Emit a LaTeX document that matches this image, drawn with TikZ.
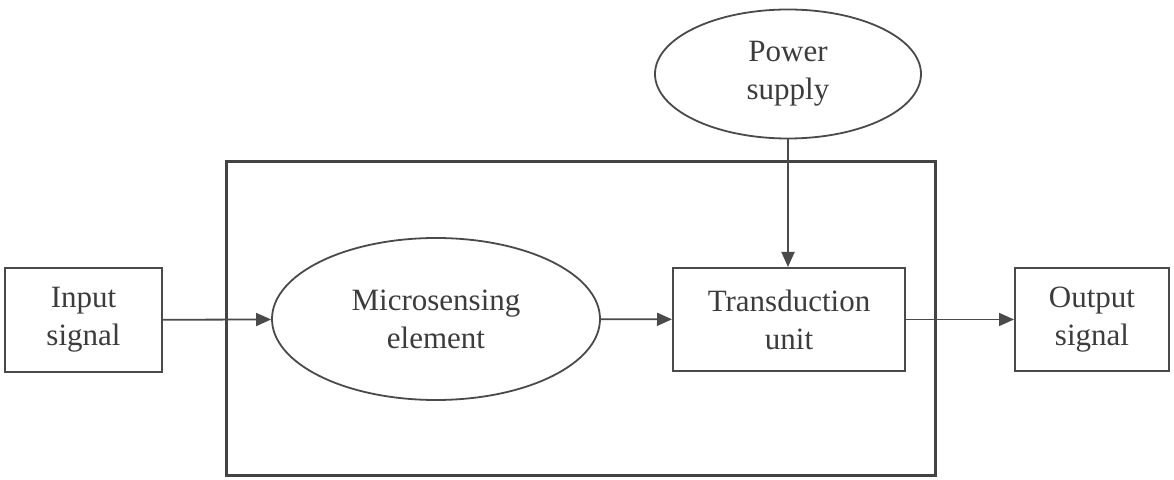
\documentclass[tikz,border=0pt]{standalone}
\usepackage{fontspec}
\setmainfont{Liberation Serif}
\usetikzlibrary{shapes.geometric,arrows.meta}
\definecolor{ink}{HTML}{4A4A4A}
\definecolor{txt}{HTML}{3C3C3C}
\tikzset{
	blk/.style 2 args={rectangle,draw=ink,line width=1pt,inner sep=0pt,minimum width=#1,minimum height=#2,align=center,text=txt,font=\fontsize{15.5}{19}\selectfont},
	oval/.style 2 args={ellipse,draw=ink,line width=0.9pt,inner sep=0pt,minimum width=#1,minimum height=#2,align=center,text=txt,font=\fontsize{15.5}{19}\selectfont},
	unitframe/.style={rectangle,draw=ink!90!black,line width=1.5pt,inner sep=0pt,minimum width=354.5pt,minimum height=157pt},
	flow/.style={draw=ink,line width=0.9pt,-{Triangle[length=7.5pt,width=6.5pt]}}
}
\begin{document}
\begin{tikzpicture}[x=0.5pt,y=-0.5pt]
					\useasboundingbox (0,0) rectangle (1174,480);

					\node [unitframe] (unit) at (580.5,319) {};

					\node [blk={78.5pt}{52pt}] (input) at (83.5,320) {Input\\signal};
					\node [oval={164pt}{81pt}] (micro) at (436,319) {Microsensing\\element};
					\node [blk={116pt}{51.5pt}] (trans) at (789,319.5) {Transduction\\unit};
					\node [blk={77pt}{51.5pt}] (output) at (1092,319.5) {Output\\signal};
					\node [oval={133pt}{64.5pt}] (power) at (788,74) {Power\\supply};

					\draw [flow] (input) -- (micro);
					\draw [flow] (micro) -- (trans);
					\draw [flow] (trans) -- (output);
					\draw [flow] (power.south) -- (power.south |- trans.north);
				\end{tikzpicture}
\end{document}
